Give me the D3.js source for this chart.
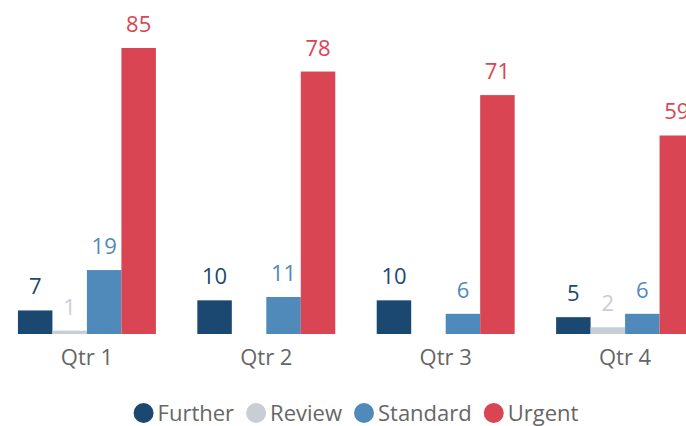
<!DOCTYPE html>
<html lang="en-us">
  <head>
    <meta charset="UTF-8">
    <script src="https://d3js.org/d3.v7.min.js"></script>
    <style>
      body { margin: 0; background: #fff; overflow: hidden; }
      text { font-family: "Open Sans", "Noto Sans", sans-serif; }
    </style>
  </head>
  <body>
    <div id="chart"></div>
    <script>
      // data
      const quarters = ["Qtr 1", "Qtr 2", "Qtr 3", "Qtr 4"];
      const seriesNames = ["Further", "Review", "Standard", "Urgent"];
      const further = [7, 10, 10, 5];
      const review = [1, 0, 0, 2];
      const standard = [19, 11, 6, 6];
      const urgent = [85, 78, 71, 59];
      const colors = ["#1b4870", "#c9ced5", "#4f8abb", "#d94552"];

      const values = [further, review, standard, urgent];

      // the plot is wider than the window and gets cut on the right
      const width = 712, height = 426;
      const baseline = 334;

      const svg = d3.select("#chart")
        .append("svg")
        .attr("width", 686)
        .attr("height", height);

      const x = d3.scaleBand()
        .domain(quarters)
        .range([0, width])
        .paddingInner(0.231)
        .paddingOuter(0.1);

      const xs = d3.scaleBand()
        .domain(seriesNames)
        .range([0, x.bandwidth()]);

      const y = d3.scaleLinear()
        .domain([0, 85])
        .range([baseline, 48]);

      const rows = [];
      quarters.forEach((q, i) => {
        seriesNames.forEach((s, j) => {
          rows.push({ q: q, s: s, v: values[j][i], c: colors[j] });
        });
      });

      const g = svg.append("g");

      g.selectAll("rect")
        .data(rows.filter(d => d.v > 0))
        .join("rect")
        .attr("x", d => x(d.q) + xs(d.s))
        .attr("y", d => y(d.v))
        .attr("width", xs.bandwidth())
        .attr("height", d => y(0) - y(d.v))
        .attr("fill", d => d.c);

      g.selectAll("text.val")
        .data(rows.filter(d => d.v > 0))
        .join("text")
        .attr("class", "val")
        .attr("x", d => x(d.q) + xs(d.s) + xs.bandwidth() / 2)
        .attr("y", d => y(d.v) - 16)
        .attr("text-anchor", "middle")
        .style("font-size", "22px")
        .style("fill", d => d.c)
        .text(d => d.v);

      // category axis, no line or ticks
      const xAxis = svg.append("g")
        .attr("transform", `translate(0, ${baseline})`)
        .call(d3.axisBottom(x).tickSize(0).tickPadding(15));
      xAxis.select(".domain").remove();
      xAxis.selectAll("text")
        .attr("font-family", null)
        .style("font-size", "22px")
        .style("fill", "#666666");

      // legend, centred under the plot
      const legend = svg.append("g");
      const items = legend.selectAll("g")
        .data(seriesNames)
        .join("g");
      items.append("circle")
        .attr("r", 10)
        .attr("cx", 10)
        .attr("cy", 0)
        .attr("fill", (d, i) => colors[i]);
      items.append("text")
        .attr("x", 24)
        .attr("y", 8)
        .style("font-size", "22px")
        .style("fill", "#666666")
        .text(d => d);

      let offset = 0;
      items.each(function () {
        const w = 24 + d3.select(this).select("text").node().getComputedTextLength();
        d3.select(this).attr("transform", `translate(${offset}, 0)`);
        offset += w + 12;
      });
      const total = offset - 12;
      legend.attr("transform", `translate(${(width - total) / 2}, 413)`);
    </script>
  </body>
</html>
